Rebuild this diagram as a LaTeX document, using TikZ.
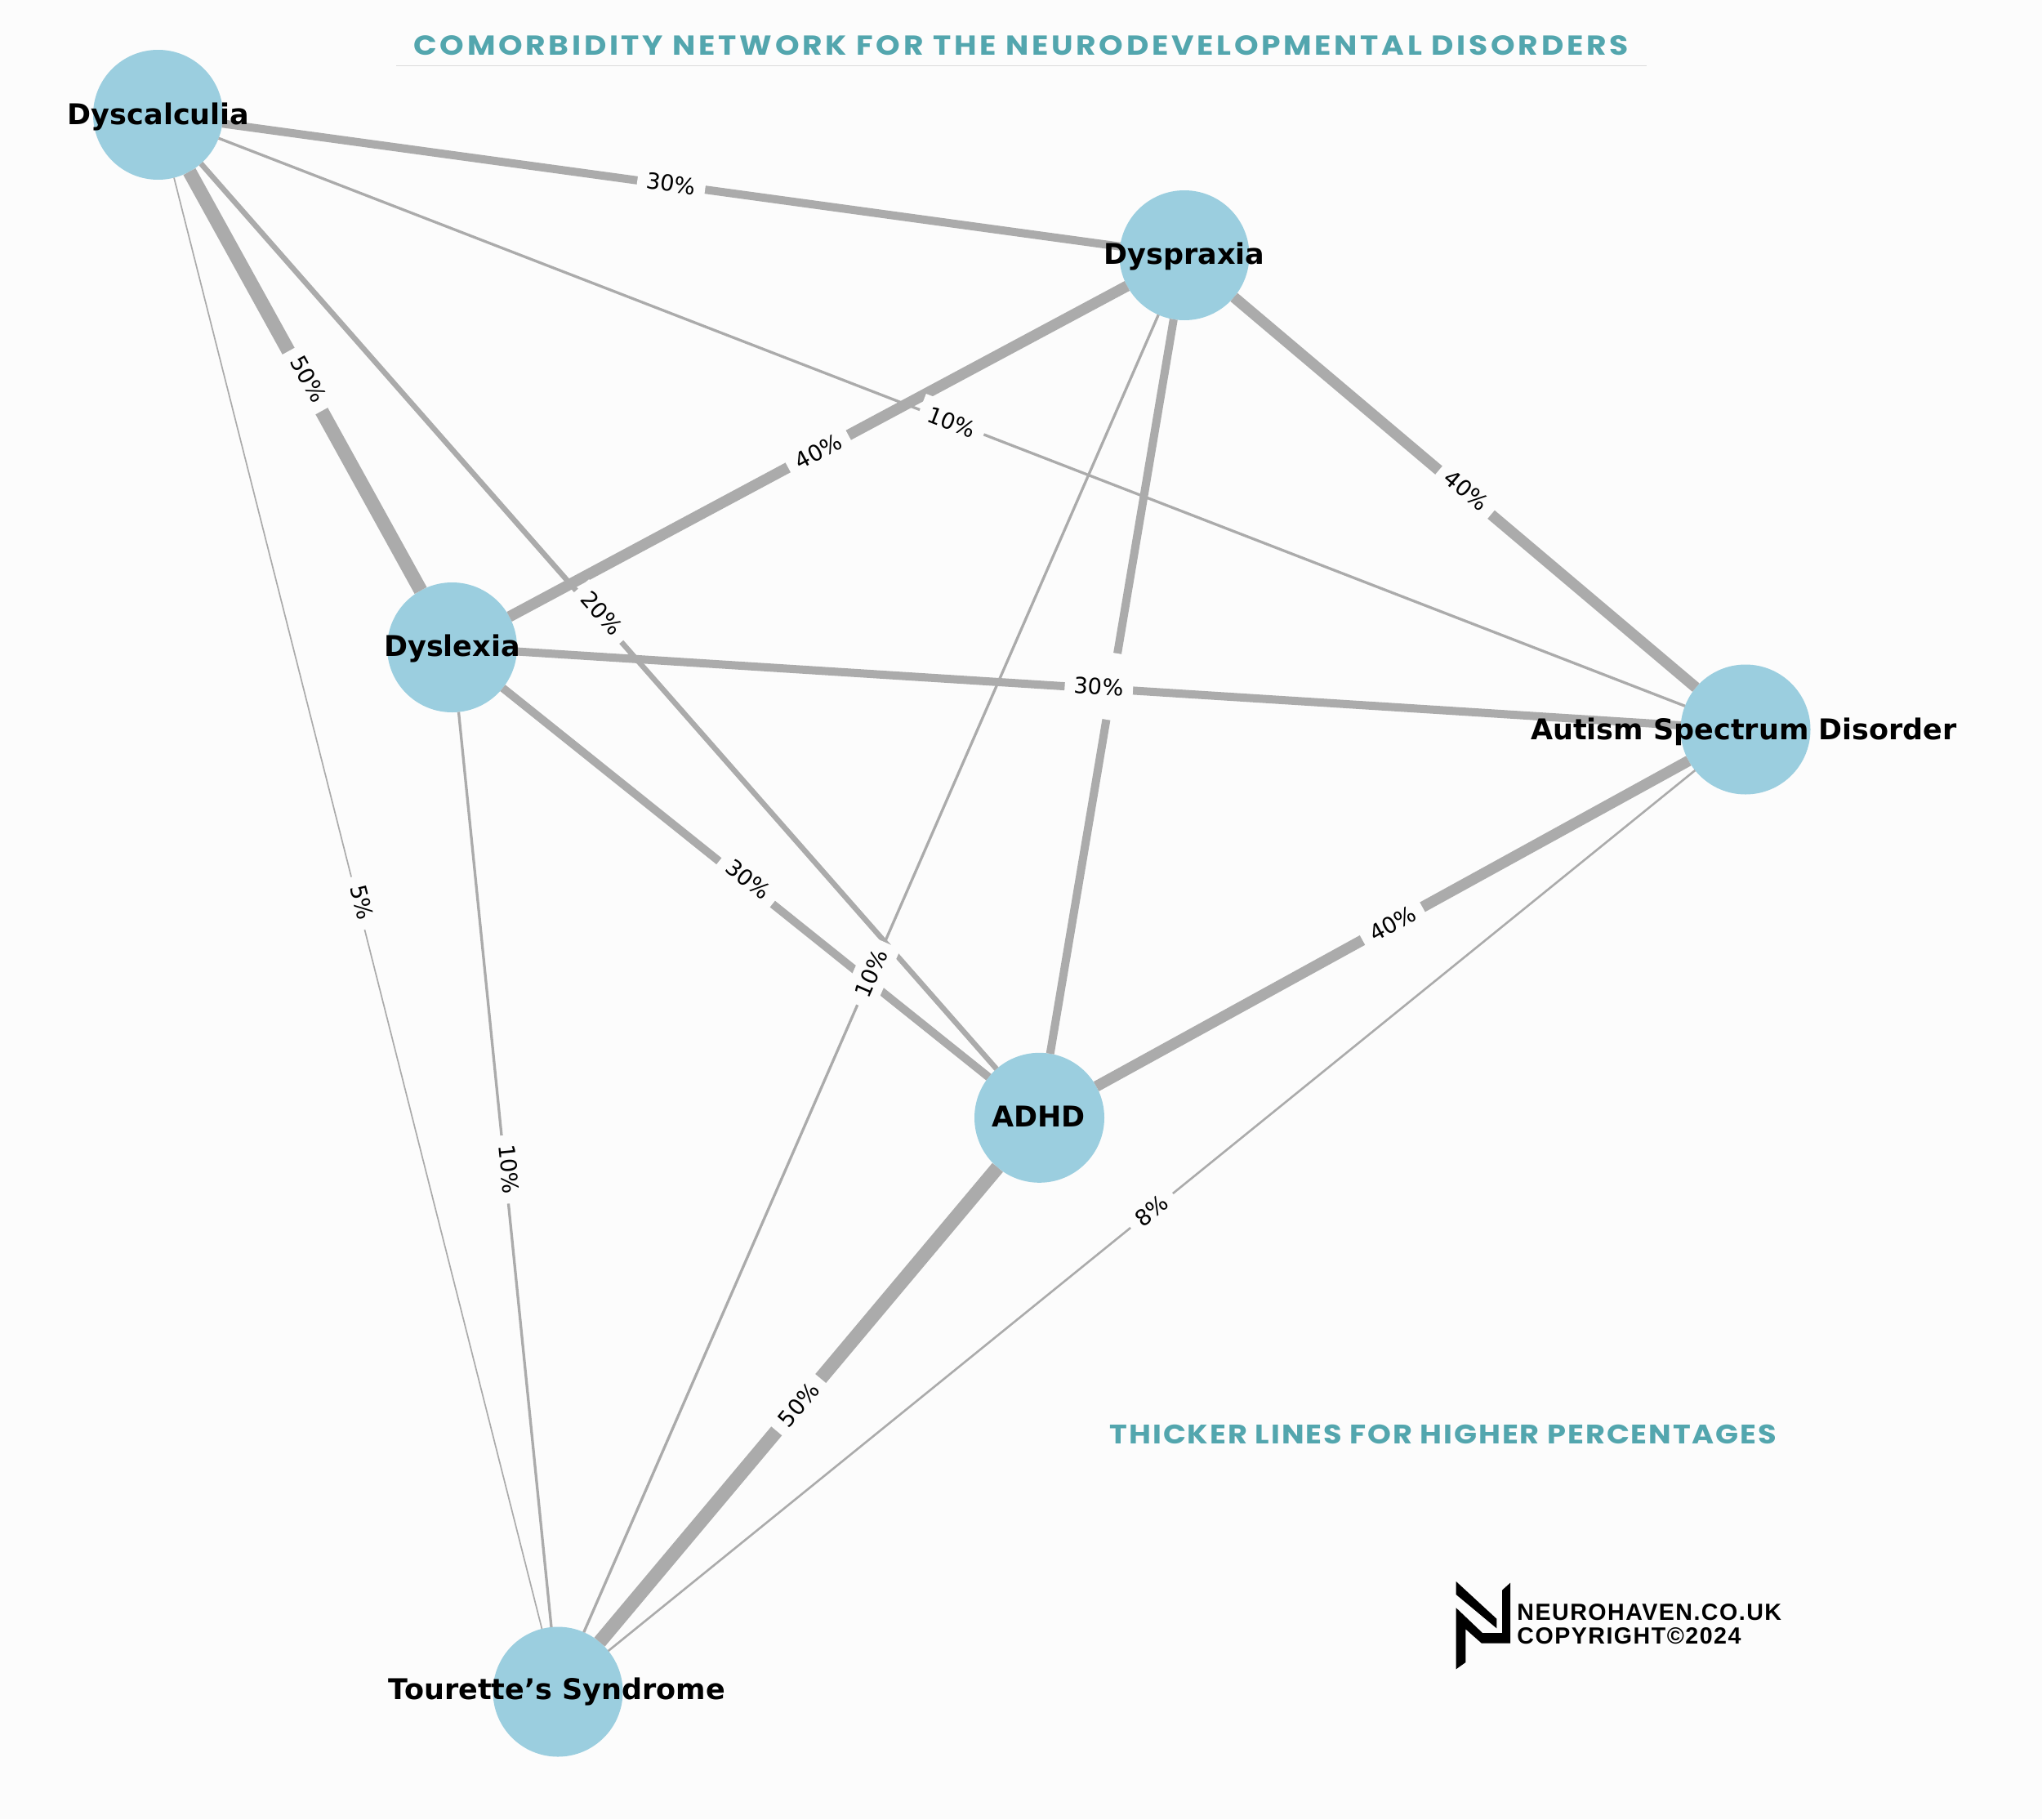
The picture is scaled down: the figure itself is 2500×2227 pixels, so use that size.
\documentclass[tikz,border=0pt]{standalone}
\usepackage{fontspec}
\setmainfont{DejaVu Sans}
\newfontfamily\titlefont[LetterSpace=11,FakeStretch=1.12]{Poppins}
\newfontfamily\notefont[LetterSpace=5.8,FakeStretch=1.12]{Poppins}
\newfontfamily\logofont[LetterSpace=5.2]{Liberation Sans}
\newcommand{\pct}[2][0]{\raisebox{\dimexpr #1pt - 4.96pt\relax}[0pt][0pt]{#2}}
\definecolor{bgc}{HTML}{FCFCFC}
\definecolor{nodec}{HTML}{9BCEDF}
\definecolor{edgec}{HTML}{ABABAB}
\definecolor{tealc}{HTML}{53A6AE}
\tikzset{
  nd/.style={circle,fill=nodec,draw=none,minimum size=79.5pt,inner sep=0pt,outer sep=0pt},
  nlabel/.style={anchor=base,inner sep=0pt,text=black,font=\fontsize{17.5}{20}\selectfont\bfseries},
  edge/.style={draw=edgec,line cap=butt},
  p50/.style={edge,line width=8.5pt},
  p40/.style={edge,line width=6.7pt},
  p30/.style={edge,line width=5pt},
  p20/.style={edge,line width=3.3pt},
  p10/.style={edge,line width=1.65pt},
  p8/.style={edge,line width=1.3pt},
  p5/.style={edge,line width=0.85pt},
  elabel/.style={midway,sloped,fill=bgc,text=black,inner xsep=5.8pt,inner ysep=0pt,minimum height=21pt,font=\fontsize{13.6}{15}\selectfont},
  heading/.style={text=tealc,inner sep=0pt,anchor=base},
  logotext/.style={text=black,inner sep=0pt,anchor=base west,font=\logofont\bfseries\fontsize{14.3}{16}\selectfont}
}
\begin{document}
\begin{tikzpicture}[x=0.5pt,y=-0.5pt]
\useasboundingbox (0,0) rectangle (2500,2227);
\fill[bgc] (0,0) rectangle (2500,2227);
% circles
\node[nd] (dcal) at (193.5,140.5) {};
\node[nd] (dpra) at (1450,312.5) {};
\node[nd] (dlex) at (553.5,792.5) {};
\node[nd] (asd) at (2137,893) {};
\node[nd] (adhd) at (1272.5,1368.3) {};
\node[nd] (tour) at (683,2071) {};
% edges
\draw[p5] (dcal) -- (tour);
\draw[p10] (dlex) -- (tour);
\draw[p10] (dpra) -- (tour);
\draw[p8] (asd) -- (tour);
\draw[p10] (dcal) -- (asd);
\draw[p20] (dcal) -- (adhd);
\draw[p30] (dcal) -- (dpra);
\draw[p30] (dlex) -- (adhd);
\draw[p30] (dlex) -- (asd);
\draw[p30] (dpra) -- (adhd);
\draw[p40] (dlex) -- (dpra);
\draw[p40] (dpra) -- (asd);
\draw[p40] (adhd) -- (asd);
\draw[p50] (dcal) -- (dlex);
\draw[p50] (adhd) -- (tour);
% edge labels
\path (dcal) -- (tour) node[elabel] (l1) {\pct[2.5]{5\%}};
\path (dlex) -- (tour) node[elabel] (l2) {\pct[2.5]{10\%}};
\path (dcal) -- (adhd) node[elabel] (l3) {\pct[2.5]{20\%}};
\path (dlex) -- (adhd) node[elabel] (l4) {\pct[2.5]{30\%}};
\path (dpra) -- (tour) node[elabel] (l5) {\pct{10\%}};
\path (asd) -- (tour) node[elabel] (l6) {\pct{8\%}};
\path (dcal) -- (asd) node[elabel] (l7) {\pct{10\%}};
\path (dcal) -- (dpra) node[elabel] (l8) {\pct[0.8]{30\%}};
\path (dpra) -- (adhd) node[elabel,minimum width=41pt] (l9) {};
\path (dlex) -- (asd) node[elabel] (l10) {\pct[1.25]{30\%}};
\path (dlex) -- (dpra) node[elabel] (l11) {\pct{40\%}};
\path (dpra) -- (asd) node[elabel] (l12) {\pct[1.5]{40\%}};
\path (adhd) -- (asd) node[elabel] (l13) {\pct{40\%}};
\path (dcal) -- (dlex) node[elabel] (l14) {\pct[2.5]{50\%}};
\path (adhd) -- (tour) node[elabel] (l15) {\pct{50\%}};
% node names
\node[nlabel] (tcal) at ([xshift=0.3pt,yshift=-6pt]dcal.center) {Dyscalculia};
\node[nlabel] (tpra) at ([yshift=-5.5pt]dpra.center) {Dyspraxia};
\node[nlabel] (tlex) at ([yshift=-5.5pt]dlex.center) {Dyslexia};
\node[nlabel] (tasd) at ([xshift=-1pt,yshift=-6pt]asd.center) {Autism Spectrum Disorder};
\node[nlabel] (tadhd) at ([xshift=-0.5pt,yshift=-5.5pt]adhd.center) {ADHD};
\node[nlabel] (ttour) at ([xshift=-0.5pt,yshift=-4.5pt]tour.center) {Tourette’s Syndrome};
% headings
\node[heading,font=\titlefont\bfseries\fontsize{16.8}{18}\selectfont] (title) at (1250,67) {COMORBIDITY NETWORK FOR THE NEURODEVELOPMENTAL DISORDERS};
\fill[black!14] (485,79.5) rectangle (2016,81);
\node[heading,font=\notefont\bfseries\fontsize{16.4}{18}\selectfont] (note) at (1767,1767) {THICKER LINES FOR HIGHER PERCENTAGES};
% logo
\fill[black] (1782.7,1936) -- (1832.3,1981.7) -- (1832.3,1993.3) -- (1782.7,1952) -- cycle;
\fill[black] (1839,1946.7) -- (1849,1937.7) -- (1849,2011.7) -- (1814,2011.7) -- (1794.3,1994.3) -- (1794.3,2035) -- (1782.7,2043.3) -- (1782.7,1968.3) -- (1815,1999) -- (1839,1999) -- cycle;
\node[logotext] (lg1) at (1857,1983) {NEUROHAVEN.CO.UK};
\node[logotext] (lg2) at (1857,2012) {COPYRIGHT©2024};
\end{tikzpicture}
\end{document}
